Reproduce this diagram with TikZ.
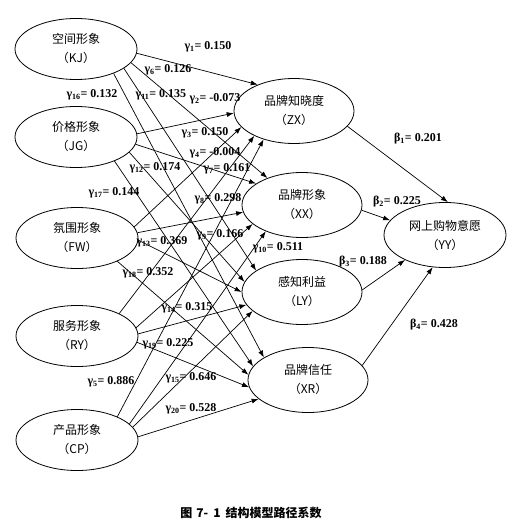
\documentclass[tikz,border=0pt]{standalone}
\usepackage{fontspec}
\setmainfont{Liberation Serif}
\newfontfamily\cjk{Noto Sans CJK SC}
\usetikzlibrary{shapes.geometric,arrows.meta}

\begin{document}
\begin{tikzpicture}[
  x=1pt, y=-1pt,
  >={Latex[length=7pt,width=5pt]},
  var/.style={ellipse, draw=black, line width=0.8pt, align=center, inner sep=0pt,
              font=\cjk\fontsize{12}{19}\selectfont, minimum width=120pt, minimum height=65pt},
  exo/.style={var, minimum width=122pt, minimum height=61pt},
  link/.style={->, line width=0.7pt, draw=black},
  coef/.style={font=\bfseries\fontsize{12}{14}\selectfont, inner sep=0pt},
]
\useasboundingbox (0,0) rectangle (514,524);

% ---- exogenous (left column) ----
\node[exo] (KJ) at (76,49)  {空间形象\\（KJ）};
\node[exo] (JG) at (76,137) {价格形象\\（JG）};
\node[exo] (FW) at (77,238) {氛围形象\\（FW）};
\node[exo] (RY) at (77,336) {服务形象\\（RY）};
\node[exo] (CP) at (77,440) {产品形象\\（CP）};

% ---- mediators (middle column) ----
\node[var] (ZX) at (294,111) {品牌知晓度\\（ZX）};
\node[var] (XX) at (302,205) {品牌形象\\（XX）};
\node[var] (LY) at (302,292) {感知利益\\（LY）};
\node[var] (XR) at (308,380) {品牌信任\\（XR）};

% ---- outcome ----
\node[var, minimum width=122pt] (YY) at (445,235) {网上购物意愿\\（YY）};

% ---- paths from KJ ----
\draw[link] (KJ.-4)  -- (ZX.144);
\draw[link] (KJ.-14) -- (XX.142);
\draw[link] (KJ.-22) -- (LY.155);
\draw[link] (KJ.-33) -- (XR.153);
% ---- paths from JG ----
\draw[link] (JG.3)   -- (ZX.182);
\draw[link] (JG.-7)  -- (XX.155);
\draw[link] (JG.-16) -- (LY.170);
\draw[link] (JG.-32) -- (XR.166);
% ---- paths from FW ----
\draw[link] (FW.11)  -- (ZX.197);
\draw[link] (FW.5)   -- (XX.187);
\draw[link] (FW.-2)  -- (LY.180);
\draw[link] (FW.-30) -- (XR.175);
% ---- paths from RY ----
\draw[link] (RY.28)  -- (ZX.212);
\draw[link] (RY.8)   -- (XX.201);
\draw[link] (RY.2)   -- (LY.193);
\draw[link] (RY.-6)  -- (XR.187);
% ---- paths from CP ----
\draw[link] (CP.30)  -- (ZX.223);
\draw[link] (CP.17)  -- (XX.216);
\draw[link] (CP.13)  -- (LY.201);
\draw[link] (CP.3)   -- (XR.201);
% ---- paths into YY ----
\draw[link] (ZX.-16) -- (YY.85);
\draw[link] (XX.-5)  -- (YY.165);
\draw[link] (LY.2)   -- (YY.212);
\draw[link] (XR.15)  -- (YY.249);

% ---- coefficients ----
\node[coef] (g1)  at (208,47)  {γ\textsubscript{1}= 0.150};
\node[coef] (g2)  at (215,99)  {γ\textsubscript{2}= -0.073};
\node[coef] (g3)  at (205,133) {γ\textsubscript{3}= 0.150};
\node[coef] (g4)  at (215,153) {γ\textsubscript{4}= -0.004};
\node[coef] (g5)  at (111,382) {γ\textsubscript{5}= 0.886};
\node[coef] (g6)  at (168,70)  {γ\textsubscript{6}= 0.126};
\node[coef] (g7)  at (227,169) {γ\textsubscript{7}= 0.161};
\node[coef] (g8)  at (218,199) {γ\textsubscript{8}= 0.298};
\node[coef] (g9)  at (220,235) {γ\textsubscript{9}= 0.166};
\node[coef] (g10) at (278,248) {γ\textsubscript{10}= 0.511};
\node[coef] (g11) at (161,95)  {γ\textsubscript{11}= 0.135};
\node[coef] (g12) at (155,168) {γ\textsubscript{12}= 0.174};
\node[coef] (g13) at (162,242) {γ\textsubscript{13}= 0.369};
\node[coef] (g14) at (187,308) {γ\textsubscript{14}= 0.315};
\node[coef] (g15) at (191,378) {γ\textsubscript{15}= 0.646};
\node[coef] (g16) at (92,95)   {γ\textsubscript{16}= 0.132};
\node[coef] (g17) at (114,193) {γ\textsubscript{17}= 0.144};
\node[coef] (g18) at (148,273) {γ\textsubscript{18}= 0.352};
\node[coef] (g19) at (168,344) {γ\textsubscript{19}= 0.225};
\node[coef] (g20) at (191,409) {γ\textsubscript{20}= 0.528};
\node[coef] (b1)  at (418,139) {β\textsubscript{1}= 0.201};
\node[coef] (b2)  at (397,202) {β\textsubscript{2}= 0.225};
\node[coef] (b3)  at (363,262) {β\textsubscript{3}= 0.188};
\node[coef] (b4)  at (434,325) {β\textsubscript{4}= 0.428};

% ---- caption ----
\node[font=\cjk\bfseries\fontsize{12}{14}\selectfont] (cap) at (251,513)
  {图\hspace{4pt}7-\hspace{5pt}1\hspace{5pt}结构模型路径系数};
\end{tikzpicture}
\end{document}
